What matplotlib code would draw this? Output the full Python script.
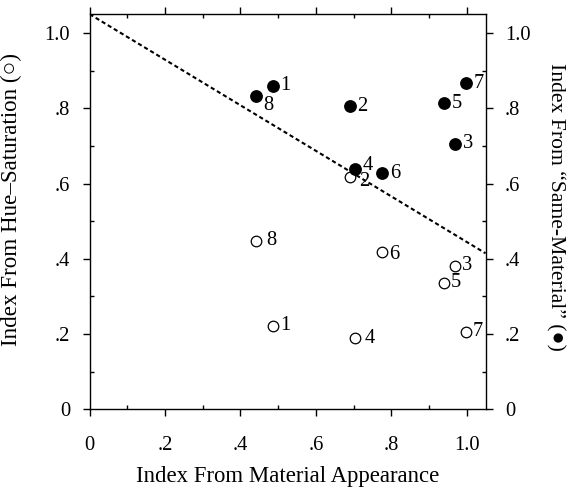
import matplotlib
matplotlib.use("Agg")
import matplotlib.pyplot as plt
from matplotlib.ticker import MultipleLocator, FixedLocator

# ---- data ----
items = ["1", "2", "3", "4", "5", "6", "7", "8"]
material_x = [0.486, 0.690, 0.969, 0.705, 0.939, 0.776, 0.997, 0.442]
same_material_y = [0.860, 0.805, 0.706, 0.639, 0.813, 0.628, 0.867, 0.832]
hue_sat_y = [0.222, 0.617, 0.382, 0.189, 0.337, 0.417, 0.207, 0.448]
fit_intercept = 1.05
fit_slope = -0.605
tick_vals = [0, 0.2, 0.4, 0.6, 0.8, 1.0]
tick_labels = ["0", ".2", ".4", ".6", ".8", "1.0"]

# ---- style / layout ----
FONT = ["Liberation Serif", "DejaVu Sans"]
plt.rcParams["font.family"] = FONT

fig = plt.figure(figsize=(5.78, 4.88), dpi=100)
ax = fig.add_axes([0.155, 0.161, 0.685, 0.810])

ax.set_xlim(0, 1.05)
ax.set_ylim(0, 1.05)

# fitted dotted line
ax.axline((0, fit_intercept), slope=fit_slope, color="black", lw=1.5,
          linestyle=(0, (2.0, 1.4)), zorder=1)

# open circles (hue-saturation)
ax.plot(material_x, hue_sat_y, linestyle="none", marker="o", ms=7.6,
        mfc="white", mec="black", mew=0.9, zorder=3)
# filled circles (same-material)
ax.plot(material_x, same_material_y, linestyle="none", marker="o", ms=8.2,
        mfc="black", mec="black", zorder=4)

# label offsets in points (dx, dy)
off_filled = {"8": (4.8, -7.0), "4": (5.5, 2.2)}
off_open = {"2": (7.0, -3.3), "8": (7.5, 0.0), "4": (6.5, -0.5), "6": (5.0, -1.2)}
for lab, x, yf, yo in zip(items, material_x, same_material_y, hue_sat_y):
    dx, dy = off_filled.get(lab, (5.5, 0.0))
    ax.annotate(lab, (x, yf), xytext=(dx, dy), textcoords="offset points",
                ha="left", va="center", fontsize=14.8, zorder=5)
    dx, dy = off_open.get(lab, (5.0, 0.0))
    ax.annotate(lab, (x, yo), xytext=(dx, dy), textcoords="offset points",
                ha="left", va="center", fontsize=14.8, zorder=5)

# ticks
for axis in (ax.xaxis, ax.yaxis):
    axis.set_major_locator(FixedLocator(tick_vals))
    axis.set_minor_locator(MultipleLocator(0.1))
ax.set_xticklabels(tick_labels)
ax.set_yticklabels(tick_labels)

ax.tick_params(which="major", direction="out", length=5, width=1.0,
               top=True, right=True, labelsize=14.8, color="black")
ax.tick_params(which="minor", direction="in", length=3, width=1.0,
               top=True, right=True)
ax.tick_params(axis="x", which="major", pad=14, labeltop=False)
ax.tick_params(axis="y", which="major", pad=9, labelright=True)

for s in ax.spines.values():
    s.set_linewidth(1.0)

ax.set_xlabel("Index From Material Appearance", fontsize=16.4)
ax.xaxis.set_label_coords(0.5, -0.142)
ax.set_ylabel("Index From Hue\u2013Saturation (\u25cb)", fontsize=16.6,
              family=FONT)
ax.yaxis.set_label_coords(-0.17, 0.53)

fig.text(0.960, 0.575, "Index From \u201cSame-Material\u201d (\u25cf)",
         rotation=-90, fontsize=15.6, ha="center", va="center", family=FONT)

fig.savefig("out.png", dpi=100)
